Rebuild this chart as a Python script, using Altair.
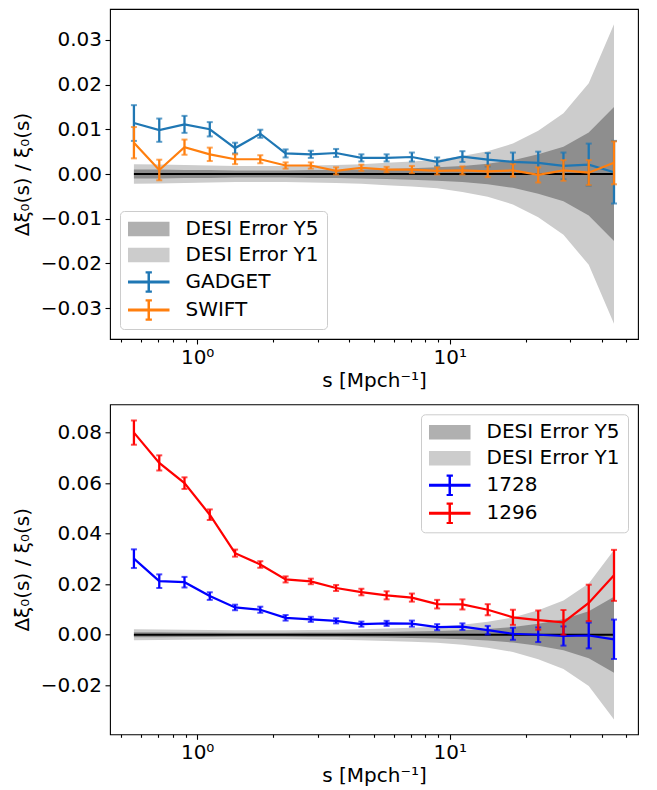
import altair as alt
import pandas as pd

FONT = "DejaVu Sans"
FS = 20

# separation s [Mpc/h]
s_vals = [0.562, 0.708, 0.891, 1.122, 1.413, 1.778, 2.239, 2.818, 3.548, 4.467,
          5.623, 7.079, 8.913, 11.22, 14.13, 17.78, 22.39, 28.18, 35.48, 44.67]

# DESI error envelopes (half widths)
desi_y1 = [0.0022, 0.0021, 0.0020, 0.0019, 0.0018, 0.0018, 0.0018, 0.0019, 0.0020, 0.0022,
           0.0025, 0.0028, 0.0032, 0.0040, 0.0051, 0.0068, 0.0097, 0.0136, 0.0203, 0.0335]
desi_y5 = [0.0010, 0.0010, 0.0009, 0.0009, 0.0008, 0.0008, 0.0008, 0.0009, 0.0009, 0.0010,
           0.0011, 0.0013, 0.0015, 0.0018, 0.0023, 0.0031, 0.0044, 0.0061, 0.0093, 0.0150]
zero_line = [0.0] * 20

# top panel
gadget = [0.0114, 0.0098, 0.0111, 0.0100, 0.0058, 0.0090, 0.0046, 0.0044, 0.0047, 0.0036,
          0.0036, 0.0038, 0.0027, 0.0039, 0.0032, 0.0027, 0.0025, 0.0018, 0.0021, 0.0004]
gadget_err = [0.0040, 0.0026, 0.0019, 0.0016, 0.0012, 0.0009, 0.0009, 0.0008, 0.0009, 0.0008,
              0.0008, 0.0010, 0.0010, 0.0012, 0.0015, 0.0021, 0.0025, 0.0030, 0.0047, 0.0070]
swift = [0.0070, 0.0009, 0.0060, 0.0044, 0.0033, 0.0033, 0.0019, 0.0019, 0.0007, 0.0014,
         0.0010, 0.0010, 0.0007, 0.0008, 0.0006, 0.0008, -0.0002, 0.0008, 0.0003, 0.0025]
swift_err = [0.0035, 0.0023, 0.0017, 0.0015, 0.0011, 0.0009, 0.0007, 0.0007, 0.0008, 0.0007,
             0.0006, 0.0008, 0.0008, 0.0009, 0.0013, 0.0014, 0.0017, 0.0023, 0.0028, 0.0048]

# bottom panel
n1728 = [0.0301, 0.0212, 0.0208, 0.0153, 0.0108, 0.0099, 0.0067, 0.0061, 0.0055, 0.0042,
         0.0045, 0.0044, 0.0030, 0.0032, 0.0018, 0.0004, 0.0000, -0.0005, -0.0003, -0.0018]
n1728_err = [0.0037, 0.0027, 0.0021, 0.0015, 0.0011, 0.0012, 0.0011, 0.0010, 0.0010, 0.0010,
             0.0010, 0.0012, 0.0012, 0.0013, 0.0017, 0.0024, 0.0029, 0.0038, 0.0051, 0.0078]
n1296 = [0.0800, 0.0680, 0.0600, 0.0475, 0.0323, 0.0278, 0.0219, 0.0211, 0.0185, 0.0169,
         0.0156, 0.0147, 0.0121, 0.0120, 0.0099, 0.0069, 0.0058, 0.0049, 0.0126, 0.0235]
n1296_err = [0.0048, 0.0030, 0.0023, 0.0021, 0.0014, 0.0013, 0.0012, 0.0011, 0.0012, 0.0013,
             0.0016, 0.0016, 0.0017, 0.0020, 0.0022, 0.0030, 0.0038, 0.0049, 0.0072, 0.0101]

x_domain = [0.4519, 55.59]
x_ticks = [0.5, 0.6, 0.7, 0.8, 0.9, 1, 2, 3, 4, 5, 6, 7, 8, 9, 10, 20, 30, 40, 50]
top_domain = [-0.0369, 0.0369]
top_ticks = [-0.03, -0.02, -0.01, 0.0, 0.01, 0.02, 0.03]
bot_domain = [-0.0394, 0.0912]
bot_ticks = [-0.02, 0.0, 0.02, 0.04, 0.06, 0.08]

legend_top = ["DESI Error Y5", "DESI Error Y1", "GADGET", "SWIFT"]
colors_top = ["#b0b0b0", "#cccccc", "#1f77b4", "#ff7f0e"]
legend_bot = ["DESI Error Y5", "DESI Error Y1", "1728", "1296"]
colors_bot = ["#b0b0b0", "#cccccc", "#0000ff", "#ff0000"]

RECT = "M-1,-0.72H3.15V0.72H-1Z"
EBAR = ("M-1,-0.15H3.15V0.15H-1Z M0.95,-1.05H1.2V1.05H0.95Z "
        "M0.76,-1.07H1.39V-0.86H0.76Z M0.76,0.86H1.39V1.07H0.76Z")

X_TITLE = "s [Mpch\u207b\u00b9]"
Y_TITLE = "\u0394\u03be\u2080(s) / \u03be\u2080(s)"

band_df = pd.DataFrame({
    "s": s_vals,
    "y1lo": [-v for v in desi_y1], "y1hi": desi_y1,
    "y5lo": [-v for v in desi_y5], "y5hi": desi_y5,
    "zero": zero_line,
})


def series_df(vals, errs):
    return pd.DataFrame({
        "s": s_vals, "v": vals,
        "lo": [v - e for v, e in zip(vals, errs)],
        "hi": [v + e for v, e in zip(vals, errs)],
    })


def xenc():
    return alt.X("s:Q", title=X_TITLE,
                 scale=alt.Scale(type="log", domain=x_domain, nice=False),
                 axis=alt.Axis(values=x_ticks, labelOverlap=False, labelFlush=False,
                               labelBound=False, labelPadding=3, titlePadding=3,
                               tickSize={"condition": {"test": "datum.value == 1 || datum.value == 10",
                                                       "value": 5}, "value": 3},
                               labelExpr="datum.value == 1 ? '10\u2070' : (datum.value == 10 ? '10\u00b9' : '')"))


def yenc(field, domain, ticks):
    return alt.Y(field, title=Y_TITLE,
                 scale=alt.Scale(domain=domain, nice=False, zero=False),
                 axis=alt.Axis(values=ticks, format=".2f", tickSize=5, labelPadding=3.5,
                               titlePadding=8))


def panel(sers, domain, ticks, names, colors, orient):
    layers = []
    base = alt.Chart(band_df)
    layers.append(base.mark_area(color="#cccccc").encode(
        x=xenc(), y=yenc("y1lo:Q", domain, ticks), y2="y1hi:Q"))
    layers.append(base.mark_area(color="#8e8e8e").encode(
        x=xenc(), y=yenc("y5lo:Q", domain, ticks), y2="y5hi:Q"))
    layers.append(base.mark_line(color="black", strokeWidth=2).encode(
        x=xenc(), y=yenc("zero:Q", domain, ticks)))
    for (vals, errs), col in zip(sers, colors[2:]):
        d = alt.Chart(series_df(vals, errs))
        layers.append(d.mark_line(color=col, strokeWidth=2.2).encode(
            x=xenc(), y=yenc("v:Q", domain, ticks)))
        layers.append(d.mark_rule(color=col, strokeWidth=2.3).encode(
            x=xenc(), y=yenc("lo:Q", domain, ticks), y2="hi:Q"))
        for f in ["lo:Q", "hi:Q"]:
            layers.append(d.mark_tick(color=col, orient="horizontal", size=6,
                                      thickness=2).encode(
                x=xenc(), y=yenc(f, domain, ticks)))
    leg = alt.Legend(title=None, orient=orient, offset=10, padding=8, rowPadding=6,
                     symbolSize=400, labelOffset=37.5, labelFontSize=FS, labelFont=FONT,
                     labelColor="black", fillColor="rgba(255,255,255,0.8)",
                     strokeColor="#cccccc", cornerRadius=4, symbolStrokeWidth=0,
                     symbolOpacity=1, labelLimit=400)
    leg_df = pd.DataFrame({"name": names})
    layers.append(alt.Chart(leg_df).mark_point(filled=True, opacity=0).encode(
        color=alt.Color("name:N", scale=alt.Scale(domain=names, range=colors), legend=leg),
        shape=alt.Shape("name:N", scale=alt.Scale(domain=names, range=[RECT, RECT, EBAR, EBAR]),
                        legend=leg)))
    return alt.layer(*layers).properties(width=528, height=330)


top = panel([(gadget, gadget_err), (swift, swift_err)], top_domain, top_ticks,
            legend_top, colors_top, "bottom-left")
bot = panel([(n1728, n1728_err), (n1296, n1296_err)], bot_domain, bot_ticks,
            legend_bot, colors_bot, "top-right")

chart = alt.vconcat(top, bot, spacing=65.3, bounds="flush").resolve_scale(
    color="independent", shape="independent", x="independent", y="independent"
).properties(
    padding={"left": 3, "top": 0, "right": 5, "bottom": 5}
).configure_view(
    stroke="black", strokeWidth=1.1
).configure_axis(
    domain=False, grid=False, tickColor="black", tickWidth=1.1,
    labelColor="black", titleColor="black", labelFont=FONT, titleFont=FONT,
    labelFontSize=FS, titleFontSize=FS, titleFontWeight="normal"
)

chart.save("out.html", embed_options={"renderer": "svg", "actions": False})
